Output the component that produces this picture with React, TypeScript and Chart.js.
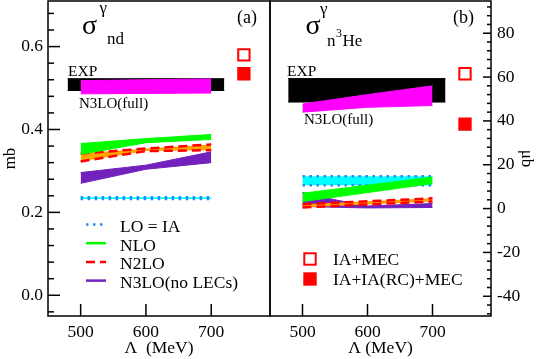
import React, { useEffect, useRef } from "react";
import { Chart, registerables } from "chart.js";

Chart.register(...registerables);

const SERIF = '"Liberation Serif", "Times New Roman", Times, serif';

// ---------- shared x axis: cut-off Λ (MeV)
const lambdaTicks = [500, 600, 700];
const lambdaMin = 450;
const lambdaMax = 790;
const lambda3 = [500, 600, 700];
const markerLambda = [750];

// ---------- panel (a): σ_nd^γ (mb)
const ndTicks = [0.0, 0.2, 0.4, 0.6];
const ndMin = -0.05;
const ndMax = 0.71;
const ndExpLambda = [480, 720];
const ndExpLow = [0.494, 0.494];
const ndExpHigh = [0.5225, 0.5225];
const ndFullLow = [0.486, 0.487, 0.488];
const ndFullHigh = [0.518, 0.520, 0.522];
const ndLoLow = [0.2325, 0.2325, 0.2325];
const ndLoHigh = [0.2365, 0.2365, 0.2365];
const ndNloLow = [0.340, 0.368, 0.376];
const ndNloHigh = [0.366, 0.378, 0.388];
const ndN2loLow = [0.323, 0.348, 0.350];
const ndN2loHigh = [0.342, 0.354, 0.364];
const ndN3loLow = [0.270, 0.304, 0.320];
const ndN3loHigh = [0.296, 0.314, 0.346];
const ndIaMec = [0.580];
const ndIaRcMec = [0.5345];

// ---------- panel (b): σ_n3He^γ (μb)
const heTicks = [-40, -20, 0, 20, 40, 60, 80];
const heMin = -49;
const heMax = 94.7;
const heExpLambda = [478, 720];
const heExpLow = [48.6, 48.6];
const heExpHigh = [59.3, 59.3];
const heFullLow = [44.0, 46.2, 47.0];
const heFullHigh = [47.7, 52.0, 56.0];
const heLoLow = [10.6, 10.6, 10.6];
const heLoHigh = [14.8, 14.8, 14.8];
const heNloLow = [3.2, 7.3, 11.4];
const heNloHigh = [7.0, 10.7, 14.4];
const heN2loLow = [0.5, 1.9, 3.2];
const heN2loHigh = [2.0, 3.3, 4.7];
const heN3loLambda = [500, 550, 600, 700];
const heN3loLow = [1.0, 0.6, 0.3, 0.5];
const heN3loHigh = [7.4, 4.0, 1.2, 2.3];
const heIaMec = [61.5];
const heIaRcMec = [38.5];

// ---------- labels
const legendLeft = ["LO = IA", "NLO", "N2LO", "N3LO(no LECs)"];
const legendRight = ["IA+MEC", "IA+IA(RC)+MEC"];
const xTitleLeft = "Λ  (MeV)";
const xTitleRight = "Λ (MeV)";

// ---------- colours
const C_EXP = "#000000";
const C_FULL = "#ff00ff";
const C_LO_FILL = "#00ffff";
const C_LO_DOT = "#1f8fff";
const C_NLO = "#00ff00";
const C_N2LO_FILL = "#ffa500";
const C_N2LO = "#ff0000";
const C_N3LO = "#7221bc";
const C_MARK = "#ff0000";

const DOT = [2.5, 4.5];
const DASH = [9, 5];

function pts(xs: number[], ys: number[]) {
  return xs.map((x, i) => ({ x, y: ys[i] }));
}

function band(
  xs: number[],
  lo: number[],
  hi: number[],
  fillColor: string,
  edge?: string,
  dash?: number[],
  width?: number
) {
  const common = {
    borderColor: edge ?? fillColor,
    borderWidth: width ?? 1,
    borderDash: dash ?? [],
    pointRadius: 0,
    tension: 0,
  };
  return [
    { ...common, data: pts(xs, lo), fill: false },
    { ...common, data: pts(xs, hi), fill: "-1", backgroundColor: fillColor },
  ];
}

function marker(ys: number[], filled: boolean) {
  return {
    data: pts(markerLambda, ys),
    showLine: false,
    pointStyle: "rect",
    pointRadius: 8,
    pointBorderWidth: 2,
    pointBorderColor: C_MARK,
    pointBackgroundColor: filled ? C_MARK : "#ffffff",
    borderColor: C_MARK,
    backgroundColor: filled ? C_MARK : "#ffffff",
  };
}

function noPad(s: any) {
  s.paddingTop = 0;
  s.paddingBottom = 0;
  s.paddingLeft = 0;
  s.paddingRight = 0;
}

function xScale(title: string) {
  return {
    type: "linear",
    position: "bottom",
    min: lambdaMin,
    max: lambdaMax,
    afterBuildTicks: (s: any) => {
      s.ticks = lambdaTicks.map((v) => ({ value: v }));
    },
    afterFit: (s: any) => {
      s.height = 43;
      noPad(s);
    },
    ticks: {
      font: { family: SERIF, size: 17.5 },
      color: "#000",
      padding: 6,
      maxRotation: 0,
      autoSkip: false,
      callback: (v: any) => String(v),
    },
    grid: { display: false, drawTicks: false },
    border: { display: false },
    title: {
      display: true,
      text: title,
      font: { family: SERIF, size: 17.5 },
      color: "#000",
      padding: { top: 0, bottom: 0 },
    },
  };
}

function txt(ctx: CanvasRenderingContext2D, s: string, x: number, y: number, size: number) {
  ctx.font = `${size}px ${SERIF}`;
  ctx.fillStyle = "#000";
  ctx.textAlign = "left";
  ctx.textBaseline = "alphabetic";
  ctx.fillText(s, x, y);
}

function seg(ctx: CanvasRenderingContext2D, x1: number, y1: number, x2: number, y2: number) {
  ctx.beginPath();
  ctx.moveTo(x1, y1);
  ctx.lineTo(x2, y2);
  ctx.stroke();
}

function frameAndXTicks(chart: any) {
  const ctx = chart.ctx as CanvasRenderingContext2D;
  const a = chart.chartArea;
  ctx.strokeStyle = "#000";
  ctx.lineWidth = 1.5;
  ctx.setLineDash([]);
  ctx.strokeRect(a.left, a.top, a.right - a.left, a.bottom - a.top);
  for (const v of lambdaTicks) {
    const px = chart.scales.x.getPixelForValue(v);
    seg(ctx, px, a.bottom, px, a.bottom - 12);
  }
}

const decorLeft = {
  id: "decorLeft",
  afterDraw(chart: any) {
    const ctx = chart.ctx as CanvasRenderingContext2D;
    const a = chart.chartArea;
    const ys = chart.scales.y;
    ctx.save();
    frameAndXTicks(chart);
    for (let k = -1; k <= 17; k++) {
      const py = ys.getPixelForValue(k * 0.04);
      seg(ctx, a.left, py, a.left + (k % 5 === 0 ? 12 : 6), py);
    }
    txt(ctx, "σ", 82, 33.5, 28);
    txt(ctx, "γ", 99.5, 13, 17);
    txt(ctx, "nd", 107, 43.5, 17);
    txt(ctx, "(a)", 237, 22.5, 18);
    txt(ctx, "EXP", 68, 76, 15.5);
    txt(ctx, "N3LO(full)", 79, 107.5, 15);
    const styles = [
      { c: C_LO_DOT, d: DOT },
      { c: C_NLO, d: [] },
      { c: C_N2LO, d: DASH },
      { c: C_N3LO, d: [] },
    ];
    legendLeft.forEach((label, i) => {
      const y = 224.5 + i * 18.7;
      ctx.strokeStyle = styles[i].c;
      ctx.lineWidth = 2.5;
      ctx.setLineDash(styles[i].d);
      seg(ctx, 86, y, 106, y);
      ctx.setLineDash([]);
      txt(ctx, label, 120, y + 7.5, 17.5);
    });
    ctx.restore();
  },
};

const OFF = 269;

const decorRight = {
  id: "decorRight",
  afterDraw(chart: any) {
    const ctx = chart.ctx as CanvasRenderingContext2D;
    const a = chart.chartArea;
    const ys = chart.scales.y;
    ctx.save();
    frameAndXTicks(chart);
    for (let k = -12; k <= 23; k++) {
      const py = ys.getPixelForValue(k * 4);
      seg(ctx, a.right, py, a.right - (k % 5 === 0 ? 8 : 4), py);
    }
    txt(ctx, "σ", 305.5 - OFF, 33.5, 28);
    txt(ctx, "γ", 320 - OFF, 14, 17);
    txt(ctx, "n", 327 - OFF, 45.5, 17);
    txt(ctx, "3", 336 - OFF, 37, 12);
    txt(ctx, "He", 342.5 - OFF, 45.5, 17);
    txt(ctx, "(b)", 453 - OFF, 22.5, 18);
    txt(ctx, "EXP", 287 - OFF, 75.5, 15.5);
    txt(ctx, "N3LO(full)", 304 - OFF, 123.5, 15);
    legendRight.forEach((label, i) => {
      const cy = 259 + i * 20;
      const cx = 310 - OFF;
      ctx.lineWidth = 2;
      ctx.strokeStyle = C_MARK;
      ctx.fillStyle = i === 0 ? "#ffffff" : C_MARK;
      ctx.fillRect(cx - 5.7, cy - 5.7, 11.4, 11.4);
      ctx.strokeRect(cx - 5.7, cy - 5.7, 11.4, 11.4);
      txt(ctx, label, 333 - OFF, cy + 6, 17.5);
    });
    ctx.restore();
  },
};

function leftConfig(): any {
  return {
    type: "line",
    data: {
      datasets: [
        marker(ndIaMec, false),
        marker(ndIaRcMec, true),
        ...band(lambda3, ndNloLow, ndNloHigh, C_NLO),
        ...band(lambda3, ndN2loLow, ndN2loHigh, C_N2LO_FILL, C_N2LO, DASH, 2.5),
        ...band(lambda3, ndN3loLow, ndN3loHigh, C_N3LO),
        ...band(lambda3, ndLoLow, ndLoHigh, C_LO_FILL, C_LO_DOT, DOT, 2.5),
        ...band(lambda3, ndFullLow, ndFullHigh, C_FULL),
        ...band(ndExpLambda, ndExpLow, ndExpHigh, C_EXP),
      ],
    },
    options: {
      animation: false,
      responsive: false,
      maintainAspectRatio: false,
      events: [],
      layout: { autoPadding: false, padding: { top: 1, right: 5, left: 0, bottom: 0 } },
      plugins: { legend: { display: false }, tooltip: { enabled: false } },
      scales: {
        x: xScale(xTitleLeft),
        y: {
          type: "linear",
          position: "left",
          min: ndMin,
          max: ndMax,
          afterBuildTicks: (s: any) => {
            s.ticks = ndTicks.map((v) => ({ value: v }));
          },
          afterFit: (s: any) => {
            s.width = 48;
            noPad(s);
          },
          ticks: {
            font: { family: SERIF, size: 17.5 },
            color: "#000",
            padding: 5,
            autoSkip: false,
            callback: (v: any) => Number(v).toFixed(1),
          },
          grid: { display: false, drawTicks: false },
          border: { display: false },
          title: {
            display: true,
            text: "mb",
            font: { family: SERIF, size: 17 },
            color: "#000",
            padding: { top: 0, bottom: 0 },
          },
        },
      },
    },
    plugins: [decorLeft],
  };
}

function rightConfig(): any {
  return {
    type: "line",
    data: {
      datasets: [
        marker(heIaMec, false),
        marker(heIaRcMec, true),
        ...band(lambda3, heNloLow, heNloHigh, C_NLO),
        ...band(lambda3, heN2loLow, heN2loHigh, C_N2LO_FILL, C_N2LO, DASH, 2.5),
        ...band(heN3loLambda, heN3loLow, heN3loHigh, C_N3LO),
        ...band(lambda3, heLoLow, heLoHigh, C_LO_FILL, C_LO_DOT, DOT, 2.5),
        ...band(lambda3, heFullLow, heFullHigh, C_FULL),
        ...band(heExpLambda, heExpLow, heExpHigh, C_EXP),
      ],
    },
    options: {
      animation: false,
      responsive: false,
      maintainAspectRatio: false,
      events: [],
      layout: { autoPadding: false, padding: { top: 1, right: 0, left: 1, bottom: 0 } },
      plugins: { legend: { display: false }, tooltip: { enabled: false } },
      scales: {
        x: xScale(xTitleRight),
        y: {
          type: "linear",
          position: "right",
          min: heMin,
          max: heMax,
          afterBuildTicks: (s: any) => {
            s.ticks = heTicks.map((v) => ({ value: v }));
          },
          afterFit: (s: any) => {
            s.width = 54;
            noPad(s);
          },
          ticks: {
            font: { family: SERIF, size: 17.5 },
            color: "#000",
            padding: 6,
            autoSkip: false,
            callback: (v: any) => String(v),
          },
          grid: { display: false, drawTicks: false },
          border: { display: false },
          title: {
            display: true,
            text: "μb",
            font: { family: SERIF, size: 17 },
            color: "#000",
            padding: { top: 8, bottom: 0 },
          },
        },
      },
    },
    plugins: [decorRight],
  };
}

export default function App() {
  const leftRef = useRef<HTMLCanvasElement>(null);
  const rightRef = useRef<HTMLCanvasElement>(null);
  useEffect(() => {
    document.body.style.margin = "0";
    const c1 = new Chart(leftRef.current as HTMLCanvasElement, leftConfig());
    const c2 = new Chart(rightRef.current as HTMLCanvasElement, rightConfig());
    return () => {
      c1.destroy();
      c2.destroy();
    };
  }, []);
  return (
    <div style={{ position: "absolute", left: 0, top: 0, width: 545, height: 359, background: "#fff" }}>
      <canvas ref={leftRef} width={275} height={359} style={{ position: "absolute", left: 0, top: 0 }} />
      <canvas ref={rightRef} width={276} height={359} style={{ position: "absolute", left: OFF, top: 0 }} />
    </div>
  );
}
